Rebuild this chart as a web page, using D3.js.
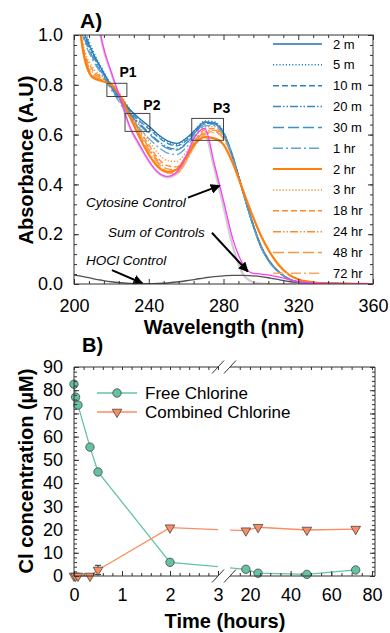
<!DOCTYPE html>
<html>
<head>
<meta charset="utf-8">
<script src="https://cdn.jsdelivr.net/npm/d3@7"></script>
<style>
  body { margin: 0; background: #fff; }
  svg { display: block; font-family: Arial, "Liberation Sans", sans-serif; }
</style>
</head>
<body>
<div id="chart"></div>
<script>
// ---- DATA (panel A: absorbance spectra) ----
const wavelengths = [200,205,210,215,220,225,230,235,240,245,250,255,260,265,270,275,280,285,290,295,300,305,310,315,320,330,340,350,360];

const spec2m  = [1.20,1.02,0.93,0.86,0.795,0.745,0.700,0.665,0.635,0.600,0.575,0.565,0.585,0.620,0.650,0.645,0.605,0.510,0.380,0.255,0.150,0.085,0.045,0.020,0.008,0.003,0.002,0.001,0];
const spec5m  = [1.22,1.04,0.94,0.865,0.800,0.748,0.700,0.662,0.630,0.595,0.570,0.560,0.580,0.620,0.655,0.652,0.612,0.515,0.386,0.260,0.155,0.088,0.047,0.021,0.009,0.003,0.002,0.001,0];
const spec10m = [1.20,1.03,0.93,0.858,0.792,0.740,0.692,0.655,0.624,0.590,0.565,0.555,0.575,0.615,0.650,0.648,0.608,0.512,0.382,0.258,0.152,0.086,0.046,0.020,0.008,0.003,0.002,0.001,0];
const spec20m = [1.18,1.01,0.92,0.852,0.790,0.735,0.685,0.645,0.610,0.575,0.550,0.542,0.565,0.610,0.645,0.645,0.606,0.510,0.380,0.255,0.150,0.085,0.045,0.020,0.008,0.003,0.002,0.001,0];
const spec30m = [1.17,1.00,0.91,0.846,0.785,0.730,0.680,0.640,0.604,0.570,0.545,0.538,0.562,0.608,0.642,0.642,0.602,0.508,0.379,0.254,0.149,0.084,0.045,0.020,0.008,0.003,0.002,0.001,0];
const spec1hr = [1.16,0.99,0.90,0.840,0.780,0.722,0.670,0.625,0.585,0.550,0.526,0.520,0.548,0.598,0.635,0.636,0.598,0.505,0.378,0.252,0.148,0.083,0.044,0.019,0.008,0.003,0.002,0.001,0];
const spec2hr = [1.25,0.93,0.830,0.815,0.800,0.750,0.670,0.590,0.520,0.470,0.450,0.460,0.510,0.565,0.590,0.585,0.560,0.485,0.385,0.285,0.195,0.125,0.072,0.038,0.019,0.005,0.002,0.001,0];
const spec3hr = [1.22,0.96,0.870,0.835,0.805,0.760,0.700,0.635,0.575,0.525,0.495,0.492,0.530,0.590,0.630,0.632,0.600,0.510,0.385,0.262,0.158,0.090,0.048,0.022,0.009,0.003,0.002,0.001,0];
const spec18hr= [1.23,0.95,0.860,0.830,0.800,0.755,0.690,0.620,0.560,0.505,0.475,0.470,0.512,0.578,0.620,0.625,0.595,0.508,0.384,0.260,0.156,0.089,0.047,0.021,0.009,0.003,0.002,0.001,0];
const spec24hr= [1.24,0.94,0.850,0.825,0.800,0.750,0.685,0.612,0.548,0.495,0.462,0.458,0.502,0.570,0.612,0.618,0.590,0.505,0.382,0.258,0.155,0.088,0.047,0.021,0.009,0.003,0.002,0.001,0];
const spec48hr= [1.25,0.935,0.840,0.820,0.800,0.750,0.680,0.605,0.540,0.487,0.452,0.448,0.495,0.565,0.606,0.612,0.586,0.502,0.380,0.257,0.154,0.088,0.046,0.021,0.009,0.003,0.002,0.001,0];
const spec72hr= [1.26,0.93,0.835,0.818,0.800,0.750,0.675,0.598,0.532,0.480,0.445,0.442,0.490,0.560,0.600,0.608,0.582,0.500,0.378,0.256,0.153,0.087,0.046,0.020,0.008,0.003,0.002,0.001,0];

const cytosineControl = [2.00,1.60,1.20,0.965,0.845,0.735,0.625,0.555,0.492,0.446,0.428,0.442,0.502,0.578,0.600,0.465,0.310,0.150,0.045,0.010,0.002,0,0,0,0,0,0,0,0];
const sumControls     = [2.00,1.60,1.22,0.975,0.850,0.740,0.630,0.560,0.495,0.448,0.432,0.450,0.515,0.595,0.625,0.485,0.335,0.180,0.085,0.045,0.040,0.035,0.028,0.018,0.010,0.003,0.001,0,0];
const hoclControl     = [0.036,0.030,0.022,0.015,0.009,0.005,0.002,0.001,0.001,0.002,0.004,0.008,0.013,0.019,0.025,0.030,0.033,0.035,0.035,0.033,0.030,0.024,0.017,0.010,0.006,0.002,0.001,0,0];

const spectraNames = ["2 m","5 m","10 m","20 m","30 m","1 hr","2 hr","3 hr","18 hr","24 hr","48 hr","72 hr"];
const spectra = [spec2m,spec5m,spec10m,spec20m,spec30m,spec1hr,spec2hr,spec3hr,spec18hr,spec24hr,spec48hr,spec72hr];

// boxes: wavelength span, absorbance span, label anchor
const peakBoxes = [
  { label: "P1", wl: [217.6, 228.3], a: [0.753, 0.806], lx: 228.9, ly: 0.83 },
  { label: "P2", wl: [227.3, 240.6], a: [0.613, 0.685], lx: 241.7, ly: 0.70 },
  { label: "P3", wl: [263.0, 280.0], a: [0.577, 0.665], lx: 279.0, ly: 0.685 }
];

// ---- DATA (panel B: chlorine) ----
const timeHours = [0,0.033,0.083,0.333,0.5,2,18,24,48,72];
const freeChlorine = [82.6,77.0,73.6,55.5,44.8,5.9,2.9,1.2,0.7,2.6];
const combinedChlorine = [0,0,0,0,2.6,20.8,19.5,21.0,19.8,20.2];
const combinedErr = [0,0,0,0,2.0,0,0,0,0,0];

// ---- STYLE ----
const seriesColors = ["#1f72b0","#2a7dbd","#2f83c2","#3589c6","#3f8fca","#5aa6d8",
                      "#ff7f0e","#fd8a2a","#fb8a2c","#f98d33","#fa9640","#fba75f"];
const dashes = ["none","1.2,2","6,3","8,2,1.5,2,1.5,2","11,4","10,3,2,3"];
const FREE = "#66c2a5", COMB = "#fc8d62";

const svg = d3.select("#chart").append("svg").attr("width", 390).attr("height", 633);

// ================= PANEL A =================
const xA = d3.scaleLinear().domain([200, 360]).range([74, 373]);
const yA = d3.scaleLinear().domain([0, 1]).range([284, 35]);

svg.append("clipPath").attr("id", "clipA").append("rect")
  .attr("x", 74).attr("y", 35).attr("width", 299).attr("height", 249);

const gA = svg.append("g");
const plotA = gA.append("g").attr("clip-path", "url(#clipA)");

const line = d3.line()
  .x((d, i) => xA(wavelengths[i]))
  .y(d => yA(d))
  .curve(d3.curveMonotoneX);

// controls underneath
plotA.append("path").attr("d", line(cytosineControl))
  .attr("fill", "none").attr("stroke", "#cfcfcf").attr("stroke-width", 2.2);
plotA.append("path").attr("d", line(hoclControl))
  .attr("fill", "none").attr("stroke", "#505050").attr("stroke-width", 1.3);

const drawOrder = [7, 8, 9, 10, 11, 0, 1, 2, 3, 4, 5, 6];
drawOrder.forEach(i => {
  plotA.append("path").attr("d", line(spectra[i]))
    .attr("fill", "none")
    .attr("stroke", seriesColors[i])
    .attr("stroke-width", i === 6 ? 2.2 : 1.3)
    .attr("stroke-dasharray", dashes[i % 6]);
});
plotA.append("path").attr("d", line(sumControls))
  .attr("fill", "none").attr("stroke", "#ff3cf5").attr("stroke-width", 1.3);

// peak boxes
peakBoxes.forEach(b => {
  gA.append("rect")
    .attr("x", xA(b.wl[0])).attr("y", yA(b.a[1]))
    .attr("width", xA(b.wl[1]) - xA(b.wl[0]))
    .attr("height", yA(b.a[0]) - yA(b.a[1]))
    .attr("fill", "none").attr("stroke", "#444").attr("stroke-width", 1);
  gA.append("text").attr("x", xA(b.lx)).attr("y", yA(b.ly))
    .attr("text-anchor", "middle").attr("font-size", 14).attr("font-weight", "bold")
    .text(b.label);
});

// annotations
svg.append("defs").append("marker")
  .attr("id", "arrow").attr("viewBox", "0 0 10 10").attr("refX", 9).attr("refY", 5)
  .attr("markerWidth", 5).attr("markerHeight", 5).attr("orient", "auto")
  .append("path").attr("d", "M0,0 L10,5 L0,10 z").attr("fill", "#000");

const notes = [
  { text: "Cytosine Control", tx: 206.4, ty: 0.31, from: [261, 0.347], to: [278, 0.395] },
  { text: "Sum of Controls",  tx: 218.2, ty: 0.19, from: [273.8, 0.206], to: [293, 0.05] },
  { text: "HOCl Control",     tx: 206.4, ty: 0.077, from: [220.3, 0.056], to: [236.6, 0.003] }
];
notes.forEach(n => {
  gA.append("text").attr("x", xA(n.tx)).attr("y", yA(n.ty))
    .attr("font-size", 13.5).attr("font-style", "italic").text(n.text);
  gA.append("line")
    .attr("x1", xA(n.from[0])).attr("y1", yA(n.from[1]))
    .attr("x2", xA(n.to[0])).attr("y2", yA(n.to[1]))
    .attr("stroke", "#000").attr("stroke-width", 2).attr("marker-end", "url(#arrow)");
});

// legend A
const legA = gA.append("g");
spectraNames.forEach((name, i) => {
  const y = 44 + i * 20.85;
  legA.append("line").attr("x1", 273).attr("x2", 322).attr("y1", y).attr("y2", y)
    .attr("stroke", seriesColors[i]).attr("stroke-width", i === 6 ? 2 : 1.5)
    .attr("stroke-dasharray", dashes[i % 6]);
  legA.append("text").attr("x", 333).attr("y", y + 4.5).attr("font-size", 13).text(name);
});

// axes A
function styleAxis(g, fs) {
  g.select(".domain").remove();
  g.selectAll("line").attr("stroke", "#333");
  g.selectAll("text").attr("font-size", fs).attr("fill", "#000")
    .attr("font-family", "Arial, 'Liberation Sans', sans-serif");
}
const xMajA = [200, 240, 280, 320, 360];
const xMinA = d3.range(200, 361, 8).filter(v => !xMajA.includes(v));
const yMajA = d3.range(0, 1.01, 0.2);
const yMinA = d3.range(0, 1.001, 0.04);

gA.append("g").attr("transform", "translate(0,284)")
  .call(d3.axisBottom(xA).tickValues(xMajA).tickSize(-5).tickPadding(15).tickFormat(d3.format("d")))
  .call(g => styleAxis(g, 18));
gA.append("g").attr("transform", "translate(0,284)")
  .call(d3.axisBottom(xA).tickValues(xMinA).tickSize(-3).tickFormat(""))
  .call(g => styleAxis(g, 18));
gA.append("g").attr("transform", "translate(0,35)")
  .call(d3.axisTop(xA).tickValues(xMajA).tickSize(-5).tickFormat(""))
  .call(g => styleAxis(g, 18));
gA.append("g").attr("transform", "translate(0,35)")
  .call(d3.axisTop(xA).tickValues(xMinA).tickSize(-3).tickFormat(""))
  .call(g => styleAxis(g, 18));
gA.append("g").attr("transform", "translate(74,0)")
  .call(d3.axisLeft(yA).tickValues(yMajA).tickSize(-5).tickPadding(11).tickFormat(d3.format(".1f")))
  .call(g => styleAxis(g, 18));
gA.append("g").attr("transform", "translate(74,0)")
  .call(d3.axisLeft(yA).tickValues(yMinA).tickSize(-3).tickFormat(""))
  .call(g => styleAxis(g, 18));
gA.append("g").attr("transform", "translate(373,0)")
  .call(d3.axisRight(yA).tickValues(yMajA).tickSize(-5).tickFormat(""))
  .call(g => styleAxis(g, 18));
gA.append("g").attr("transform", "translate(373,0)")
  .call(d3.axisRight(yA).tickValues(yMinA).tickSize(-3).tickFormat(""))
  .call(g => styleAxis(g, 18));
gA.append("rect").attr("x", 74).attr("y", 35).attr("width", 299).attr("height", 249)
  .attr("fill", "none").attr("stroke", "#333").attr("stroke-width", 1);

gA.append("text").attr("x", 80).attr("y", 28).attr("font-size", 21).attr("font-weight", "bold").text("A)");
gA.append("text").attr("x", 224).attr("y", 334).attr("text-anchor", "middle")
  .attr("font-size", 20).attr("font-weight", "bold").text("Wavelength (nm)");
gA.append("text").attr("transform", "translate(33,160) rotate(-90)").attr("text-anchor", "middle")
  .attr("font-size", 20).attr("font-weight", "bold").text("Absorbance (A.U)");

// ================= PANEL B =================
const xL = d3.scaleLinear().domain([0, 3]).range([74, 218]);
const xR = d3.scaleLinear().domain([10.2, 81.5]).range([230, 375]);
const xB = t => t <= 3 ? xL(t) : xR(t);
const yB = d3.scaleLinear().domain([0, 90]).range([576, 367]);

const gB = svg.append("g");
const defs = svg.append("defs");
defs.append("clipPath").attr("id", "clipL").append("rect")
  .attr("x", 60).attr("y", 350).attr("width", 158).attr("height", 240);
defs.append("clipPath").attr("id", "clipR").append("rect")
  .attr("x", 230).attr("y", 350).attr("width", 160).attr("height", 240);

const lineB = d3.line().x(d => xB(d[0])).y(d => yB(d[1]));
const freePts = timeHours.map((t, i) => [t, freeChlorine[i]]);
const combPts = timeHours.map((t, i) => [t, combinedChlorine[i]]);

["url(#clipL)", "url(#clipR)"].forEach(cp => {
  const g = gB.append("g").attr("clip-path", cp);
  g.append("path").attr("d", lineB(freePts)).attr("fill", "none").attr("stroke", FREE).attr("stroke-width", 1.3);
  g.append("path").attr("d", lineB(combPts)).attr("fill", "none").attr("stroke", COMB).attr("stroke-width", 1.3);
});

// error bars
combPts.forEach((p, i) => {
  if (combinedErr[i] > 0) {
    const x = xB(p[0]), y0 = yB(p[1] - combinedErr[i]), y1 = yB(p[1] + combinedErr[i]);
    gB.append("line").attr("x1", x).attr("x2", x).attr("y1", y0).attr("y2", y1).attr("stroke", "#333");
    gB.append("line").attr("x1", x - 3).attr("x2", x + 3).attr("y1", y0).attr("y2", y0).attr("stroke", "#333");
    gB.append("line").attr("x1", x - 3).attr("x2", x + 3).attr("y1", y1).attr("y2", y1).attr("stroke", "#333");
  }
});

const tri = d3.symbol().type(d3.symbolTriangle).size(40);
gB.selectAll(".comb").data(combPts).join("path")
  .attr("transform", d => `translate(${xB(d[0])},${yB(d[1])}) rotate(180)`)
  .attr("d", tri).attr("fill", COMB).attr("stroke", "#444").attr("stroke-width", 0.8);
gB.selectAll(".free").data(freePts).join("circle")
  .attr("cx", d => xB(d[0])).attr("cy", d => yB(d[1])).attr("r", 4.2)
  .attr("fill", FREE).attr("stroke", "#444").attr("stroke-width", 0.8);

// axes B
const xMajL = [0, 1, 2, 3], xMinL = d3.range(0, 3.01, 0.2);
const xMajR = [20, 40, 60, 80], xMinR = d3.range(15, 81, 5);
const yMajB = d3.range(0, 91, 10), yMinB = d3.range(0, 91, 2);

gB.append("g").attr("transform", "translate(0,576)")
  .call(d3.axisBottom(xL).tickValues(xMajL).tickSize(-5).tickPadding(12).tickFormat(d3.format("d")))
  .call(g => styleAxis(g, 18));
gB.append("g").attr("transform", "translate(0,576)")
  .call(d3.axisBottom(xL).tickValues(xMinL).tickSize(-3).tickFormat(""))
  .call(g => styleAxis(g, 18));
gB.append("g").attr("transform", "translate(0,576)")
  .call(d3.axisBottom(xR).tickValues(xMajR).tickSize(-5).tickPadding(12).tickFormat(d3.format("d")))
  .call(g => styleAxis(g, 18));
gB.append("g").attr("transform", "translate(0,576)")
  .call(d3.axisBottom(xR).tickValues(xMinR).tickSize(-3).tickFormat(""))
  .call(g => styleAxis(g, 18));
gB.append("g").attr("transform", "translate(0,367)")
  .call(d3.axisTop(xL).tickValues(xMinL).tickSize(-3).tickFormat(""))
  .call(g => styleAxis(g, 18));
gB.append("g").attr("transform", "translate(0,367)")
  .call(d3.axisTop(xR).tickValues(xMinR).tickSize(-3).tickFormat(""))
  .call(g => styleAxis(g, 18));
gB.append("g").attr("transform", "translate(74,0)")
  .call(d3.axisLeft(yB).tickValues(yMajB).tickSize(-5).tickPadding(11).tickFormat(d3.format("d")))
  .call(g => styleAxis(g, 18));
gB.append("g").attr("transform", "translate(74,0)")
  .call(d3.axisLeft(yB).tickValues(yMinB).tickSize(-3).tickFormat(""))
  .call(g => styleAxis(g, 18));
gB.append("g").attr("transform", "translate(375,0)")
  .call(d3.axisRight(yB).tickValues(yMajB).tickSize(-5).tickFormat(""))
  .call(g => styleAxis(g, 18));
gB.append("g").attr("transform", "translate(375,0)")
  .call(d3.axisRight(yB).tickValues(yMinB).tickSize(-3).tickFormat(""))
  .call(g => styleAxis(g, 18));

// frame with break
const frame = gB.append("g").attr("stroke", "#333").attr("stroke-width", 1);
frame.append("line").attr("x1", 74).attr("x2", 74).attr("y1", 367).attr("y2", 576);
frame.append("line").attr("x1", 375).attr("x2", 375).attr("y1", 367).attr("y2", 576);
[367, 576].forEach(y => {
  frame.append("line").attr("x1", 74).attr("x2", 218).attr("y1", y).attr("y2", y);
  frame.append("line").attr("x1", 230).attr("x2", 375).attr("y1", y).attr("y2", y);
  frame.append("line").attr("x1", 212).attr("x2", 224).attr("y1", y + 6.5).attr("y2", y - 6.5);
  frame.append("line").attr("x1", 224).attr("x2", 236).attr("y1", y + 6.5).attr("y2", y - 6.5);
});

// legend B
const legB = [{ name: "Free Chlorine", c: FREE, circle: true }, { name: "Combined Chlorine", c: COMB, circle: false }];
legB.forEach((d, i) => {
  const y = 393 + i * 19;
  gB.append("line").attr("x1", 97).attr("x2", 137).attr("y1", y).attr("y2", y).attr("stroke", d.c).attr("stroke-width", 1.3);
  if (d.circle) {
    gB.append("circle").attr("cx", 117).attr("cy", y).attr("r", 4.2).attr("fill", d.c).attr("stroke", "#444").attr("stroke-width", 0.8);
  } else {
    gB.append("path").attr("transform", `translate(117,${y}) rotate(180)`).attr("d", tri)
      .attr("fill", d.c).attr("stroke", "#444").attr("stroke-width", 0.8);
  }
  gB.append("text").attr("x", 145).attr("y", y + 6).attr("font-size", 17).text(d.name);
});

gB.append("text").attr("x", 82).attr("y", 352).attr("font-size", 20).attr("font-weight", "bold").text("B)");
gB.append("text").attr("x", 225).attr("y", 628).attr("text-anchor", "middle")
  .attr("font-size", 20).attr("font-weight", "bold").text("Time (hours)");
gB.append("text").attr("transform", "translate(33,471) rotate(-90)").attr("text-anchor", "middle")
  .attr("font-size", 20).attr("font-weight", "bold").text("Cl concentration (µM)");
</script>
</body>
</html>
